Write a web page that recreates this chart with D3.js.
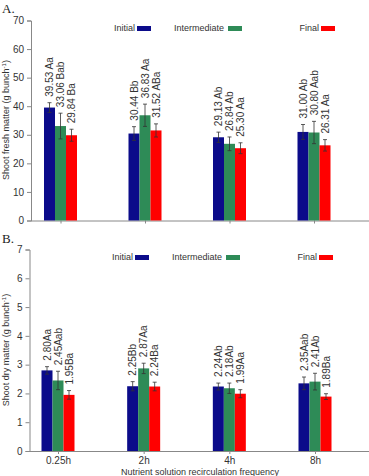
<!DOCTYPE html>
<html>
<head>
<meta charset="utf-8">
<script src="https://cdn.jsdelivr.net/npm/d3@7"></script>
<style>
  body { margin: 0; background: #fff; }
  svg { display: block; font-family: "Liberation Sans", Arial, sans-serif; }
</style>
</head>
<body>
<svg id="chart" width="369" height="476"></svg>
<script>
const categories = ["0.25h", "2h", "4h", "8h"];
const seriesNames = ["Initial", "Intermediate", "Final"];
const colors = ["#0b0b8a", "#2e8b57", "#ff0000"];

// panel A: shoot fresh matter
const freshValues = [
  [39.53, 30.44, 29.13, 31.00],
  [33.06, 36.83, 26.84, 30.80],
  [29.84, 31.52, 25.30, 26.31]
];
const freshErrors = [
  [1.7, 2.4, 1.8, 2.6],
  [4.5, 3.9, 2.4, 3.9],
  [2.1, 2.3, 1.9, 2.0]
];
const freshLabels = [
  ["39.53 Aa", "30.44 Bb", "29.13 Ab", "31.00 Ab"],
  ["33.06 Bab", "36.83 Aa", "26.84 Ab", "30.80 Aab"],
  ["29.84 Ba", "31.52 ABa", "25.30 Aa", "26.31 Aa"]
];
const freshTicks = [0, 10, 20, 30, 40, 50, 60, 70];

// panel B: shoot dry matter
const dryValues = [
  [2.80, 2.25, 2.24, 2.35],
  [2.45, 2.87, 2.18, 2.41],
  [1.95, 2.24, 1.99, 1.89]
];
const dryErrors = [
  [0.13, 0.16, 0.12, 0.22],
  [0.32, 0.18, 0.18, 0.29],
  [0.15, 0.15, 0.14, 0.10]
];
const dryLabels = [
  ["2.80Aa", "2.25Bb", "2.24Ab", "2.35Aab"],
  ["2.45Aab", "2.87Aa", "2.18Ab", "2.41Ab"],
  ["1.95Ba", "2.24Ba", "1.99Aa", "1.89Ba"]
];
const dryTicks = [0, 1, 2, 3, 4, 5, 6, 7];

const svg = d3.select("#chart");
const barW = 11;

const drawPanel = (opts) => {
  const g = svg.append("g");
  const x = d3.scalePoint().domain(categories).range(opts.xRange);
  const y = d3.scaleLinear().domain([0, opts.max]).range([opts.y0, opts.yTop]);

  g.append("text")
    .attr("x", 2)
    .attr("y", opts.letterY)
    .attr("font-family", "Liberation Serif, Times New Roman, serif")
    .attr("font-size", 13)
    .attr("fill", "#222")
    .text(opts.letter);

  // y axis
  const yAxis = g.append("g")
    .attr("transform", `translate(${opts.axisX},0)`)
    .call(d3.axisLeft(y).tickValues(opts.ticks).tickFormat(d3.format("d"))
      .tickSize(4).tickPadding(3));
  yAxis.select(".domain").attr("stroke", "#888");
  yAxis.selectAll(".tick line").attr("stroke", "#888");
  yAxis.selectAll(".tick text").attr("font-size", 10).attr("fill", "#333")
    .attr("font-family", "Liberation Sans, Arial, sans-serif");

  // x axis
  const xAxis = g.append("g")
    .attr("transform", `translate(0,${opts.y0})`)
    .call(d3.axisBottom(x).tickSize(3).tickSizeOuter(0).tickPadding(3)
      .tickFormat(opts.showX ? (d) => d : () => ""));
  xAxis.select(".domain").attr("d", `M${opts.axisX},0.5H369`).attr("stroke", "#888");
  xAxis.selectAll(".tick line").attr("stroke", "#888");
  xAxis.selectAll(".tick text").attr("font-size", 10).attr("fill", "#333")
    .attr("font-family", "Liberation Sans, Arial, sans-serif");

  // y title
  g.append("text")
    .attr("transform", `translate(9,${opts.titleY}) rotate(-90)`)
    .attr("text-anchor", "middle")
    .attr("font-size", 9)
    .attr("fill", "#333")
    .call((t) => {
      t.append("tspan").text(opts.title);
      t.append("tspan").attr("dy", -3).attr("font-size", 6).text("-1");
      t.append("tspan").attr("dy", 3).text(")");
    });

  // legend
  const legendPos = [[135, 137], [224, 228], [319, 321]];
  seriesNames.forEach((name, i) => {
    g.append("text")
      .attr("x", legendPos[i][0] + opts.legendDx)
      .attr("y", opts.legendY + 3)
      .attr("text-anchor", "end")
      .attr("font-size", 9)
      .attr("fill", "#333")
      .text(name);
    g.append("rect")
      .attr("x", legendPos[i][1] + opts.legendDx)
      .attr("y", opts.legendY - 2)
      .attr("width", 14)
      .attr("height", 5)
      .attr("fill", colors[i]);
  });

  // bars
  seriesNames.forEach((name, s) => {
    const bx = (c) => x(c) + (s - 1.5) * barW;
    const grp = g.append("g");
    grp.selectAll("rect")
      .data(categories)
      .join("rect")
      .attr("x", (c) => bx(c))
      .attr("y", (c, i) => y(opts.values[s][i]))
      .attr("width", barW)
      .attr("height", (c, i) => opts.y0 - y(opts.values[s][i]))
      .attr("fill", colors[s]);

    // error bars
    categories.forEach((c, i) => {
      const cx = bx(c) + barW / 2;
      const v = opts.values[s][i];
      const e = opts.errors[s][i];
      const eg = grp.append("g").attr("stroke", "#333").attr("stroke-width", 0.8);
      eg.append("line").attr("x1", cx).attr("x2", cx).attr("y1", y(v - e)).attr("y2", y(v + e));
      eg.append("line").attr("x1", cx - 2).attr("x2", cx + 2).attr("y1", y(v + e)).attr("y2", y(v + e));
      eg.append("line").attr("x1", cx - 2).attr("x2", cx + 2).attr("y1", y(v - e)).attr("y2", y(v - e));

      grp.append("text")
        .attr("transform", `translate(${cx},${y(v + e) - 6}) rotate(-90)`)
        .attr("dy", "0.35em")
        .attr("font-size", 10)
        .attr("fill", "#333")
        .text(opts.labels[s][i]);
    });
  });
};

drawPanel({
  letter: "A.", letterY: 13,
  values: freshValues, errors: freshErrors, labels: freshLabels, ticks: freshTicks,
  max: 70, y0: 220.5, yTop: 20.5, axisX: 31, xRange: [60.5, 314],
  title: "Shoot fresh matter (g bunch", titleY: 120,
  legendY: 28, legendDx: 0, showX: false
});

drawPanel({
  letter: "B.", letterY: 243,
  values: dryValues, errors: dryErrors, labels: dryLabels, ticks: dryTicks,
  max: 7, y0: 451, yTop: 249.5, axisX: 29.5, xRange: [58, 315],
  title: "Shoot dry matter (g bunch", titleY: 350,
  legendY: 257, legendDx: -2, showX: true
});

svg.append("text")
  .attr("x", 200)
  .attr("y", 475)
  .attr("text-anchor", "middle")
  .attr("font-size", 9)
  .attr("fill", "#333")
  .text("Nutrient solution recirculation frequency");
</script>
</body>
</html>
